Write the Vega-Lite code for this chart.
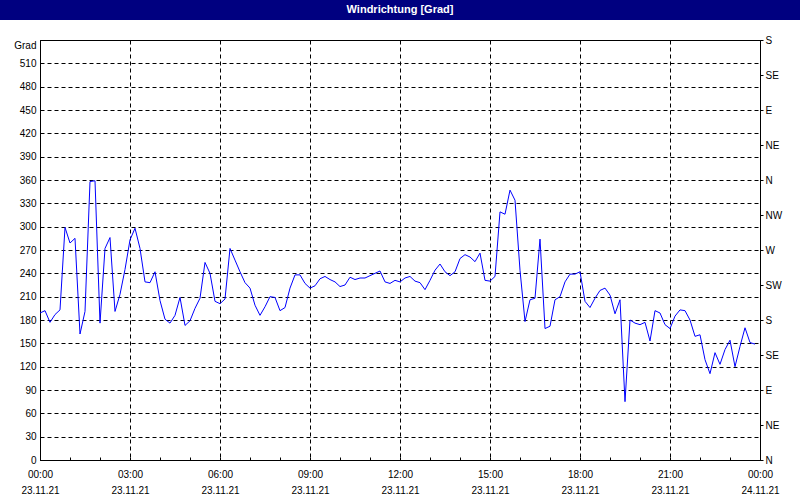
{
  "$schema": "https://vega.github.io/schema/vega-lite/v6.json",
  "background": "white",
  "padding": 0,
  "spacing": 20,
  "bounds": "flush",
  "center": true,
  "config": {
    "font": "Liberation Sans",
    "view": {"stroke": null}
  },
  "vconcat": [
    {
      "width": 800,
      "height": 20,
      "view": {"fill": "#000080", "stroke": null},
      "data": {"values": [{"title": "Windrichtung [Grad]"}]},
      "mark": {"type": "text", "color": "white", "fontWeight": "bold", "fontSize": 11, "font": "Liberation Sans", "baseline": "middle", "align": "center"},
      "encoding": {"text": {"field": "title", "type": "nominal"}}
    },
    {
      "width": 720,
      "height": 420,
      "view": {"fill": "white", "stroke": "black", "strokeWidth": 1},
      "data": {"values": [
        {"m":0,"v":189},{"m":10,"v":192},{"m":20,"v":177},{"m":30,"v":187},{"m":40,"v":193},{"m":50,"v":299},
        {"m":60,"v":279},{"m":70,"v":285},{"m":80,"v":162},{"m":90,"v":191},{"m":100,"v":358},{"m":110,"v":359},
        {"m":120,"v":176},{"m":130,"v":272},{"m":140,"v":286},{"m":150,"v":191},{"m":160,"v":213},{"m":170,"v":245},
        {"m":180,"v":283},{"m":190,"v":298},{"m":200,"v":272},{"m":210,"v":229},{"m":220,"v":228},{"m":230,"v":242},
        {"m":240,"v":205},{"m":250,"v":181},{"m":260,"v":176},{"m":270,"v":186},{"m":280,"v":209},{"m":290,"v":173},
        {"m":300,"v":179},{"m":310,"v":195},{"m":320,"v":208},{"m":330,"v":254},{"m":340,"v":240},{"m":350,"v":204},
        {"m":360,"v":201},{"m":370,"v":207},{"m":380,"v":272},{"m":390,"v":257},{"m":400,"v":242},{"m":410,"v":228},
        {"m":420,"v":221},{"m":430,"v":199},{"m":440,"v":186},{"m":450,"v":197},{"m":460,"v":210},{"m":470,"v":209},
        {"m":480,"v":192},{"m":490,"v":196},{"m":500,"v":221},{"m":510,"v":238},{"m":520,"v":238},{"m":530,"v":227},
        {"m":540,"v":221},{"m":550,"v":224},{"m":560,"v":233},{"m":570,"v":236},{"m":580,"v":232},{"m":590,"v":229},
        {"m":600,"v":223},{"m":610,"v":225},{"m":620,"v":235},{"m":630,"v":232},{"m":640,"v":234},{"m":650,"v":234},
        {"m":660,"v":237},{"m":670,"v":240},{"m":680,"v":243},{"m":690,"v":229},{"m":700,"v":227},{"m":710,"v":231},
        {"m":720,"v":229},{"m":730,"v":234},{"m":740,"v":236},{"m":750,"v":230},{"m":760,"v":228},{"m":770,"v":219},
        {"m":780,"v":231},{"m":790,"v":244},{"m":800,"v":252},{"m":810,"v":242},{"m":820,"v":237},{"m":830,"v":242},
        {"m":840,"v":259},{"m":850,"v":264},{"m":860,"v":261},{"m":870,"v":255},{"m":880,"v":266},{"m":890,"v":231},
        {"m":900,"v":230},{"m":910,"v":236},{"m":920,"v":319},{"m":930,"v":316},{"m":940,"v":347},{"m":950,"v":334},
        {"m":960,"v":244},{"m":970,"v":178},{"m":980,"v":206},{"m":990,"v":208},{"m":1000,"v":284},{"m":1010,"v":169},
        {"m":1020,"v":172},{"m":1030,"v":206},{"m":1040,"v":210},{"m":1050,"v":229},{"m":1060,"v":239},{"m":1070,"v":239},
        {"m":1080,"v":242},{"m":1090,"v":204},{"m":1100,"v":196},{"m":1110,"v":208},{"m":1120,"v":218},{"m":1130,"v":221},
        {"m":1140,"v":212},{"m":1150,"v":188},{"m":1160,"v":206},{"m":1170,"v":75},{"m":1180,"v":180},{"m":1190,"v":176},
        {"m":1200,"v":174},{"m":1210,"v":177},{"m":1220,"v":153},{"m":1230,"v":192},{"m":1240,"v":189},{"m":1250,"v":174},
        {"m":1260,"v":169},{"m":1270,"v":185},{"m":1280,"v":193},{"m":1290,"v":192},{"m":1300,"v":180},{"m":1310,"v":159},
        {"m":1320,"v":161},{"m":1330,"v":129},{"m":1340,"v":111},{"m":1350,"v":138},{"m":1360,"v":123},{"m":1370,"v":142},
        {"m":1380,"v":154},{"m":1390,"v":120},{"m":1400,"v":146},{"m":1410,"v":170},{"m":1420,"v":151},{"m":1430,"v":149}
      ]},
      "encoding": {
        "x": {
          "field": "m",
          "type": "quantitative",
          "title": null,
          "scale": {"domain": [0, 1440], "nice": false, "zero": false},
          "axis": {
            "orient": "bottom",
            "values": [0,60,120,180,240,300,360,420,480,540,600,660,720,780,840,900,960,1020,1080,1140,1200,1260,1320,1380,1440],
            "labelExpr": "datum.value % 180 == 0 ? [format(floor(datum.value / 60) % 24, '02d') + ':00', datum.value < 1440 ? '23.11.21' : '24.11.21'] : ''",
            "labelOverlap": false,
            "labelFlush": false,
            "labelBound": false,
            "labelAlign": "center",
            "labelBaseline": "top",
            "labelPadding": 12,
            "labelLineHeight": 16,
            "labelFontSize": 10,
            "labelColor": "black",
            "tickSize": -3,
            "tickColor": "black",
            "domainColor": "black",
            "grid": true,
            "gridColor": "black",
            "gridDash": [4, 3],
            "gridOpacity": {"condition": {"test": "datum.value % 180 == 0", "value": 1}, "value": 0}
          }
        }
      },
      "layer": [
        {
          "mark": {"type": "line", "color": "#0000ff", "strokeWidth": 1},
          "encoding": {
            "y": {
              "field": "v",
              "type": "quantitative",
              "title": null,
              "scale": {"domain": [0, 540], "nice": false},
              "axis": {
                "orient": "left",
                "values": [0, 30, 60, 90, 120, 150, 180, 210, 240, 270, 300, 330, 360, 390, 420, 450, 480, 510, 540],
                "labelExpr": "datum.value == 540 ? 'Grad' : datum.label",
                "labelBaseline": {"condition": {"test": "datum.value == 540", "value": "top"}, "value": "middle"},
                "labelFlush": false,
                "labelOverlap": false,
                "labelPadding": 4,
                "labelFontSize": 10,
                "labelColor": "black",
                "tickSize": 0,
                "domainColor": "black",
                "grid": true,
                "gridColor": "black",
                "gridDash": [4, 3]
              }
            }
          }
        },
        {
          "mark": {"type": "line", "color": "#0000ff", "strokeOpacity": 0},
          "encoding": {
            "y": {
              "field": "v",
              "type": "quantitative",
              "title": null,
              "scale": {"domain": [0, 540], "nice": false},
              "axis": {
                "orient": "right",
                "values": [0, 45, 90, 135, 180, 225, 270, 315, 360, 405, 450, 495, 540],
                "labelExpr": "['N','NE','E','SE','S','SW','W','NW','N','NE','E','SE','S'][round(datum.value / 45)]",
                "labelFlush": false,
                "labelOverlap": false,
                "labelPadding": 2,
                "labelFontSize": 10,
                "labelColor": "black",
                "tickSize": 3,
                "tickColor": "black",
                "domainColor": "black",
                "grid": false
              }
            }
          }
        }
      ],
      "resolve": {"axis": {"y": "independent"}}
    }
  ]
}
